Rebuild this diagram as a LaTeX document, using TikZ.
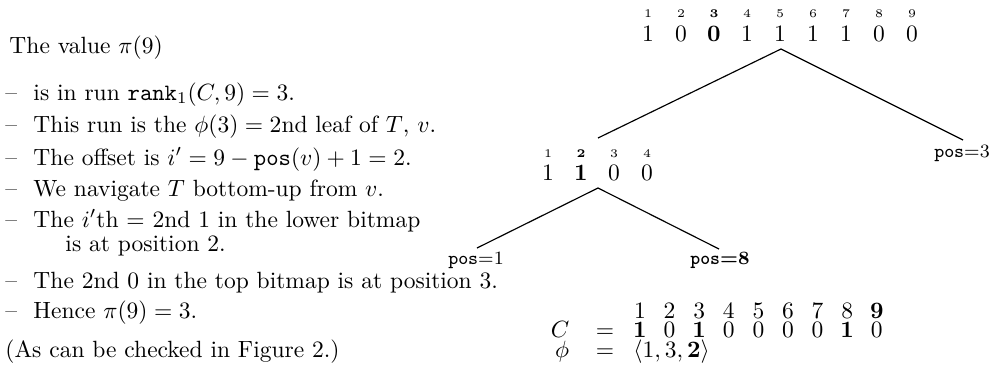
\documentclass[tikz,border=0pt]{standalone}
\usepackage{amsmath}
\begin{document}
\begin{tikzpicture}[x=0.4255pt,y=-0.4255pt,
  txt/.style={anchor=base west,inner sep=0pt},
  dig/.style={anchor=base,inner sep=0pt},
  idx/.style={anchor=base,inner sep=0pt,font=\tiny},
  leaf/.style={anchor=base,inner sep=0pt,font=\footnotesize},
  treeedge/.style={draw,line width=0.5pt}]
\useasboundingbox (0,0) rectangle (995,385);

% ---- left text ----
\node[txt] (t0) at (9,53) {The value $\pi(9)$};
\node[txt] (d1) at (5,100) {--};
\node[txt] (l1) at (33,100) {is in run $\mathtt{rank}_1(C,9)=3$.};
\node[txt] (d2) at (5,132) {--};
\node[txt] (l2) at (33,132) {This run is the $\phi(3)=2$nd leaf of $T$, $v$.};
\node[txt] (d3) at (5,165) {--};
\node[txt] (l3) at (33,165) {The offset is $i'=9-\mathtt{pos}(v)+1=2$.};
\node[txt] (d4) at (5,196) {--};
\node[txt] (l4) at (33,196) {We navigate $T$ bottom-up from $v$.};
\node[txt] (d5) at (5,227) {--};
\node[txt] (l5) at (33,227) {The $i'$th $=$ 2nd 1 in the lower bitmap};
\node[txt] (l5b) at (65,251) {is at position 2.};
\node[txt] (d6) at (5,288) {--};
\node[txt] (l6) at (33,288) {The 2nd 0 in the top bitmap is at position 3.};
\node[txt] (d7) at (5,318) {--};
\node[txt] (l7) at (33,318) {Hence $\pi(9)=3$.};
\node[txt] (t9) at (5,357) {(As can be checked in Figure 2.)};

% ---- top bitmap ----
\foreach \k/\i/\v in {1/1/1,2/2/0,3/\textbf{3}/\textbf{0},4/4/1,5/5/1,6/6/1,7/7/1,8/8/0,9/9/0}{
  \node[idx] (ti\k) at ({648+33*(\k-1)},17) {\i};
  \node[dig] (tv\k) at ({648+33*(\k-1)},41) {\v};
}
% ---- lower bitmap ----
\foreach \k/\i/\v in {1/1/1,2/\textbf{2}/\textbf{1},3/3/0,4/4/0}{
  \node[idx] (li\k) at ({548+33*(\k-1)},157) {\i};
  \node[dig] (lv\k) at ({548+33*(\k-1)},180) {\v};
}
% ---- leaves ----
\node[leaf] (p3) at (962,157) {\texttt{pos}=3};
\node[leaf] (p1) at (476,264) {\texttt{pos}=1};
\node[leaf] (p8) at (720,264) {\bfseries\texttt{pos}=8};

% ---- tree edges ----
\coordinate (root) at (781,49);
\coordinate (lowtop) at (598,138);
\coordinate (p3top) at (963,140);
\coordinate (low) at (598,188);
\coordinate (p1top) at (477,248);
\coordinate (p8top) at (719,249);
\draw[treeedge] (lowtop) -- (root) -- (p3top);
\draw[treeedge] (p1top) -- (low) -- (p8top);

% ---- C and phi ----
\node[dig] (Cl) at (560,337) {$C$};
\node[dig] (Ceq) at (605,337) {$=$};
\foreach \k/\i/\v in {1/1/\textbf{1},2/2/0,3/3/\textbf{1},4/4/0,5/5/0,6/6/0,7/7/0,8/8/\textbf{1},9/\textbf{9}/0}{
  \node[dig] (ci\k) at ({640+29.6*(\k-1)},318) {\i};
  \node[dig] (cv\k) at ({640+29.6*(\k-1)},337) {\v};
}
\node[dig] (phl) at (562,357) {$\phi$};
\node[dig] (pheq) at (605,357) {$=$};
\node[txt] (phv) at (633,357) {$\langle 1,3,\mathbf{2}\rangle$};
\end{tikzpicture}
\end{document}
